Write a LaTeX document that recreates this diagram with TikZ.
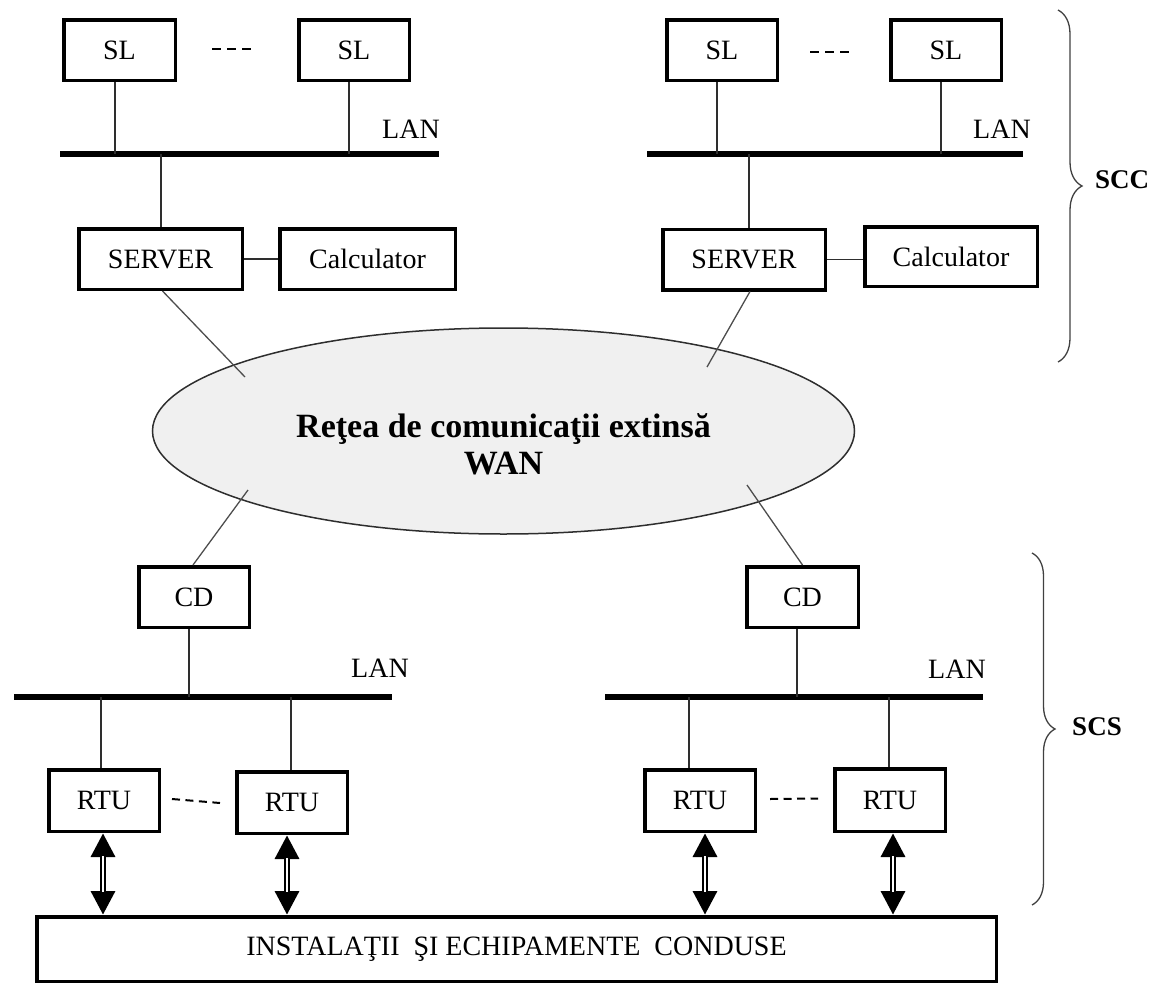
\documentclass[tikz,border=0pt]{standalone}
\usepackage{fontspec}
\setmainfont{Liberation Serif}
\usetikzlibrary{arrows.meta,decorations.pathreplacing,shapes.geometric,calc}
\definecolor{wanfill}{HTML}{F0F0F0}
\definecolor{wirecol}{HTML}{2E2E2E}
\begin{document}
\begin{tikzpicture}[x=1pt,y=-1pt,
  unit/.style={draw, line width=3.5pt, inner sep=0pt, minimum height=60.5pt,
    font=\fontsize{28}{30}\selectfont},
  wire/.style={draw=wirecol, line width=1.4pt},
  slant/.style={draw=wirecol!85, line width=1.3pt},
  bus/.style={line width=5.5pt},
  lan/.style={anchor=base, font=\fontsize{28}{30}\selectfont},
  gap/.style={line width=2pt, dash pattern=on 9pt off 6pt},
  dblarrow/.style={line width=6pt,
    {Triangle[length=24pt,width=23pt]}-{Triangle[length=24pt,width=23pt]},
    postaction={draw=white, line width=1.8pt, arrows=-, shorten <=23pt, shorten >=23pt}},
  grp/.style={draw=black!75, line width=1.3pt, decorate,
    decoration={brace, amplitude=#1}},
  grplabel/.style={font=\bfseries\fontsize{27}{30}\selectfont}
]
\useasboundingbox (0,0) rectangle (1154,985);

% ---------- SCC: left dispatch centre ----------
\node[unit, minimum width=111.5pt] (sl1) at (119.5,50) {SL};
\node[unit, minimum width=110.5pt] (sl2) at (354,50) {SL};
\node[unit, minimum width=163.5pt] (srv1) at (160.5,259) {SERVER};
\node[unit, minimum width=175.5pt] (calc1) at (367.5,259) {Calculator};
\coordinate (b1w) at (60,154);  \coordinate (b1e) at (439,154);
\coordinate (t11) at (115,154); \coordinate (t12) at (349,154); \coordinate (t13) at (161,154);
\draw[bus] (b1w) -- (b1e);
\node[lan] (lan1) at (411,138) {LAN};
\draw[wire] (sl1.south -| t11) -- (t11);
\draw[wire] (sl2.south -| t12) -- (t12);
\draw[wire] (t13) -- (srv1.north -| t13);
\draw[wire] (srv1.east) -- (calc1.west);
\draw[gap] ([xshift=35pt,yshift=1pt]sl1.east) -- ([xshift=-45pt,yshift=1pt]sl2.west);

% ---------- SCC: right dispatch centre ----------
\node[unit, minimum width=110.5pt] (sl3) at (722,50) {SL};
\node[unit, minimum width=110.5pt] (sl4) at (946,50) {SL};
\node[unit, minimum width=162.5pt] (srv2) at (744,259.5) {SERVER};
\node[unit, minimum width=172.5pt, minimum height=59.5pt] (calc2) at (951,256.5) {Calculator};
\coordinate (b2w) at (647,154);  \coordinate (b2e) at (1023,154);
\coordinate (t21) at (717,154); \coordinate (t22) at (941,154); \coordinate (t23) at (749,154);
\draw[bus] (b2w) -- (b2e);
\node[lan] (lan2) at (1002,138) {LAN};
\draw[wire] (sl3.south -| t21) -- (t21);
\draw[wire] (sl4.south -| t22) -- (t22);
\draw[wire] (t23) -- (srv2.north -| t23);
\draw[wire] (srv2.east) -- (srv2.east -| calc2.west);
\draw[gap] ([xshift=31pt,yshift=-2pt]sl3.east) -- ([xshift=-39pt,yshift=-2pt]sl4.west);

% ---------- WAN ----------
\node[ellipse, draw=wirecol, line width=1.5pt, fill=wanfill, inner sep=0pt,
  minimum width=702pt, minimum height=206pt] (wan) at (503.5,431) {};
\node[font=\bfseries\fontsize{34}{37}\selectfont, align=center] (wantext) at (503.5,444)
  {Reţea de comunicaţii extinsă\\WAN};
\coordinate (w1) at (245,377);
\coordinate (w2) at (707,367);
\coordinate (w3) at (248,490);
\coordinate (w4) at (747,485);
\draw[slant] ([xshift=2pt]srv1.south) -- (w1);
\draw[slant] ([xshift=6pt]srv2.south) -- (w2);

% ---------- SCS: left substation ----------
\node[unit, minimum width=110.5pt] (cd1) at (194,597) {CD};
\draw[slant] (w3) -- ([xshift=-1pt]cd1.north);
\coordinate (b3w) at (14,697);  \coordinate (b3e) at (392,697);
\coordinate (t31) at (189,697); \coordinate (t32) at (101,697); \coordinate (t33) at (291,697);
\draw[bus] (b3w) -- (b3e);
\node[lan] (lan3) at (380,677) {LAN};
\node[unit, minimum width=110.5pt, minimum height=61.5pt] (rtu1) at (104,800.5) {RTU};
\node[unit, minimum width=110.5pt, minimum height=61.5pt] (rtu2) at (292,802.5) {RTU};
\draw[wire] (cd1.south -| t31) -- (t31);
\draw[wire] (t32) -- (rtu1.north -| t32);
\draw[wire] (t33) -- (rtu2.north -| t33);
\draw[gap, dash pattern=on 8pt off 5.5pt] ([xshift=11pt,yshift=1.5pt]rtu1.east) -- ([xshift=-15pt,yshift=-0.5pt]rtu2.west);

% ---------- SCS: right substation ----------
\node[unit, minimum width=111.5pt] (cd2) at (802.5,597) {CD};
\draw[slant] (w4) -- (cd2.north);
\coordinate (b4w) at (605,697);  \coordinate (b4e) at (983,697);
\coordinate (t41) at (797,697); \coordinate (t42) at (689,697); \coordinate (t43) at (889,697);
\draw[bus] (b4w) -- (b4e);
\node[lan] (lan4) at (957,678) {LAN};
\node[unit, minimum width=110.5pt, minimum height=61.5pt] (rtu3) at (700,800.5) {RTU};
\node[unit, minimum width=110.5pt, minimum height=62.5pt] (rtu4) at (890,800) {RTU};
\draw[wire] (cd2.south -| t41) -- (t41);
\draw[wire] (t42) -- (rtu3.north -| t42);
\draw[wire] (t43) -- (rtu4.north -| t43);
\draw[gap, dash pattern=on 8pt off 5.5pt] ([xshift=13pt,yshift=1.5pt]rtu3.east) -- ([xshift=-15pt,yshift=1.5pt]rtu4.west);

% ---------- controlled plant ----------
\node[unit, minimum width=959.5pt, minimum height=64.5pt] (plant) at (516.5,949)
  {INSTALAŢII\ \ ŞI ECHIPAMENTE\ \ CONDUSE};
\draw[dblarrow] ($(rtu1.south)+(-1,0)$) -- ($(rtu1.south |- plant.north)+(-1,0)$);
\draw[dblarrow] ($(rtu2.south)+(-5,0)$) -- ($(rtu2.south |- plant.north)+(-5,0)$);
\draw[dblarrow] ($(rtu3.south)+(5,0)$) -- ($(rtu3.south |- plant.north)+(5,0)$);
\draw[dblarrow] ($(rtu4.south)+(3,0)$) -- ($(rtu4.south |- plant.north)+(3,0)$);

% ---------- subsystem braces ----------
\coordinate (scctop) at (1058,10);  \coordinate (sccbot) at (1058,362);
\draw[grp=24pt] (scctop) -- (sccbot);
\node[grplabel] (scc) at (1122,180) {SCC};
\coordinate (scstop) at (1032,553); \coordinate (scsbot) at (1032,905);
\draw[grp=23pt] (scstop) -- (scsbot);
\node[grplabel] (scs) at (1097,727) {SCS};
\end{tikzpicture}
\end{document}
